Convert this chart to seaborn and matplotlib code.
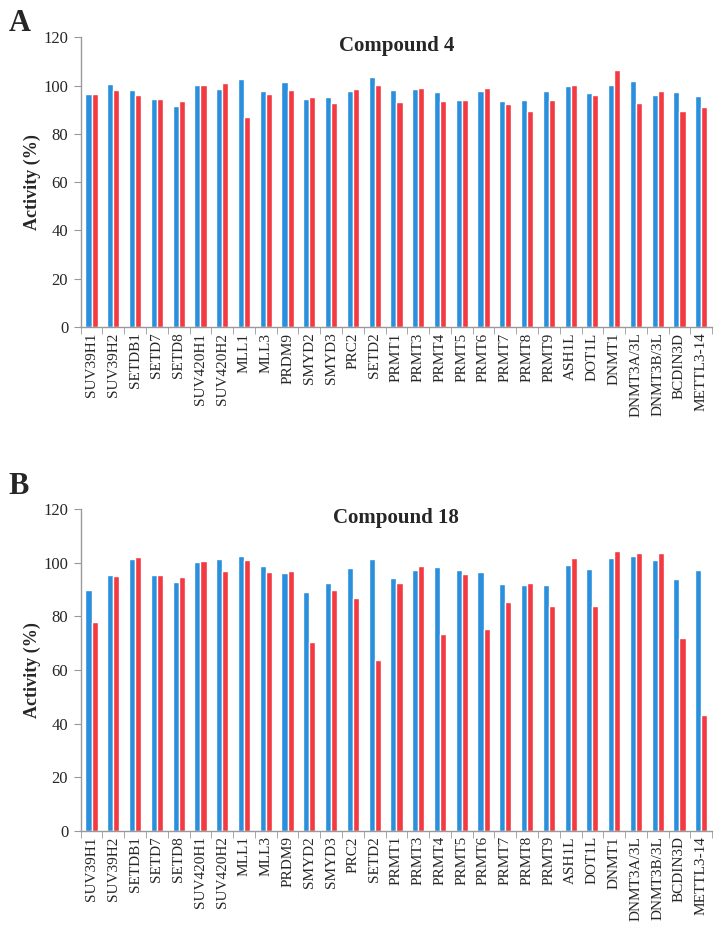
import numpy as np
import pandas as pd
import seaborn as sns
import matplotlib.pyplot as plt
from matplotlib.ticker import FixedLocator

sns.set_style('white')
plt.rcParams['font.family'] = ['Liberation Serif', 'DejaVu Serif']

# enzymes on the x axis
enzymes = ['SUV39H1', 'SUV39H2', 'SETDB1', 'SETD7', 'SETD8', 'SUV420H1', 'SUV420H2',
           'MLL1', 'MLL3', 'PRDM9', 'SMYD2', 'SMYD3', 'PRC2', 'SETD2', 'PRMT1', 'PRMT3',
           'PRMT4', 'PRMT5', 'PRMT6', 'PRMT7', 'PRMT8', 'PRMT9', 'ASH1L', 'DOT1L',
           'DNMT1', 'DNMT3A/3L', 'DNMT3B/3L', 'BCDIN3D', 'METTL3-14']

# compound 4 (panel A)
c4_blue = [96.6, 100.6, 98.2, 94.4, 91.4, 100.2, 98.6, 102.6, 97.7, 101.6, 94.4, 95.1,
           97.8, 103.4, 98.2, 98.6, 97.4, 94.1, 97.7, 93.6, 94.0, 97.6, 99.7, 97.0,
           100.2, 101.9, 96.0, 97.3, 95.9]
c4_red = [96.6, 98.1, 96.2, 94.6, 93.6, 100.4, 101.0, 87.1, 96.5, 98.2, 95.4, 92.8,
          98.6, 100.2, 93.3, 99.0, 93.8, 94.2, 99.0, 92.6, 89.7, 94.1, 100.2, 96.2,
          106.3, 93.0, 97.9, 89.7, 91.1]

# compound 18 (panel B)
c18_blue = [90.0, 95.3, 101.3, 95.3, 92.8, 100.3, 101.3, 102.7, 98.7, 96.3, 89.2, 92.5,
            98.0, 101.3, 94.3, 97.2, 98.5, 97.2, 96.4, 92.2, 91.7, 91.9, 99.1, 97.7,
            101.9, 102.6, 101.0, 93.8, 97.4]
c18_red = [77.8, 95.1, 102.1, 95.5, 94.6, 100.6, 96.9, 101.2, 96.4, 97.1, 70.4, 90.0,
           86.8, 63.6, 92.4, 98.9, 73.5, 96.0, 75.2, 85.2, 92.4, 83.8, 101.8, 83.9,
           104.3, 103.5, 103.8, 71.9, 43.2]

panels = [('A', 'Compound 4', c4_blue, c4_red),
          ('B', 'Compound 18', c18_blue, c18_red)]

fig = plt.figure(figsize=(7.23, 9.35), dpi=100)
axes_pos = [[0.1116, 0.6503, 0.8734, 0.3097],
            [0.1116, 0.1116, 0.8734, 0.3437]]
letter_y = [0.975, 0.48]

for (letter, title, blue, red), pos, ly in zip(panels, axes_pos, letter_y):
    ax = fig.add_axes(pos)
    df = pd.DataFrame({
        'enzyme': enzymes * 2,
        'activity': blue + red,
        'series': ['s1'] * len(enzymes) + ['s2'] * len(enzymes),
    })
    sns.barplot(data=df, x='enzyme', y='activity', hue='series',
                palette=['#2a8fdc', '#f33a42'], width=0.56, gap=0,
                saturation=1, legend=False, ax=ax)
    ax.set_xlim(-0.5, len(enzymes) - 0.5)
    ax.set_ylim(0, 120)
    ax.set_yticks(range(0, 121, 20))
    ax.set_xlabel('')
    ax.set_ylabel('Activity (%)', fontsize=13, fontweight='bold', labelpad=2)
    ax.tick_params(axis='y', labelsize=12, length=5, color='#999999', direction='out',
                   left=True, pad=4)
    ax.tick_params(axis='x', which='major', length=0, labelsize=11, labelrotation=90, pad=4)
    ax.xaxis.set_minor_locator(FixedLocator(np.arange(-0.5, len(enzymes), 1)))
    ax.tick_params(axis='x', which='minor', length=5, color='#999999', direction='out',
                   bottom=True)
    for s in ['top', 'right']:
        ax.spines[s].set_visible(False)
    for s in ['left', 'bottom']:
        ax.spines[s].set_color('#999999')
        ax.spines[s].set_linewidth(1.0)
    ax.text(0.5, 0.972, title, transform=ax.transAxes, ha='center', va='center',
            fontsize=15, fontweight='bold')
    fig.text(0.012, ly, letter, fontsize=22, fontweight='bold', va='center', ha='left')

plt.savefig('out.png', dpi=100)
